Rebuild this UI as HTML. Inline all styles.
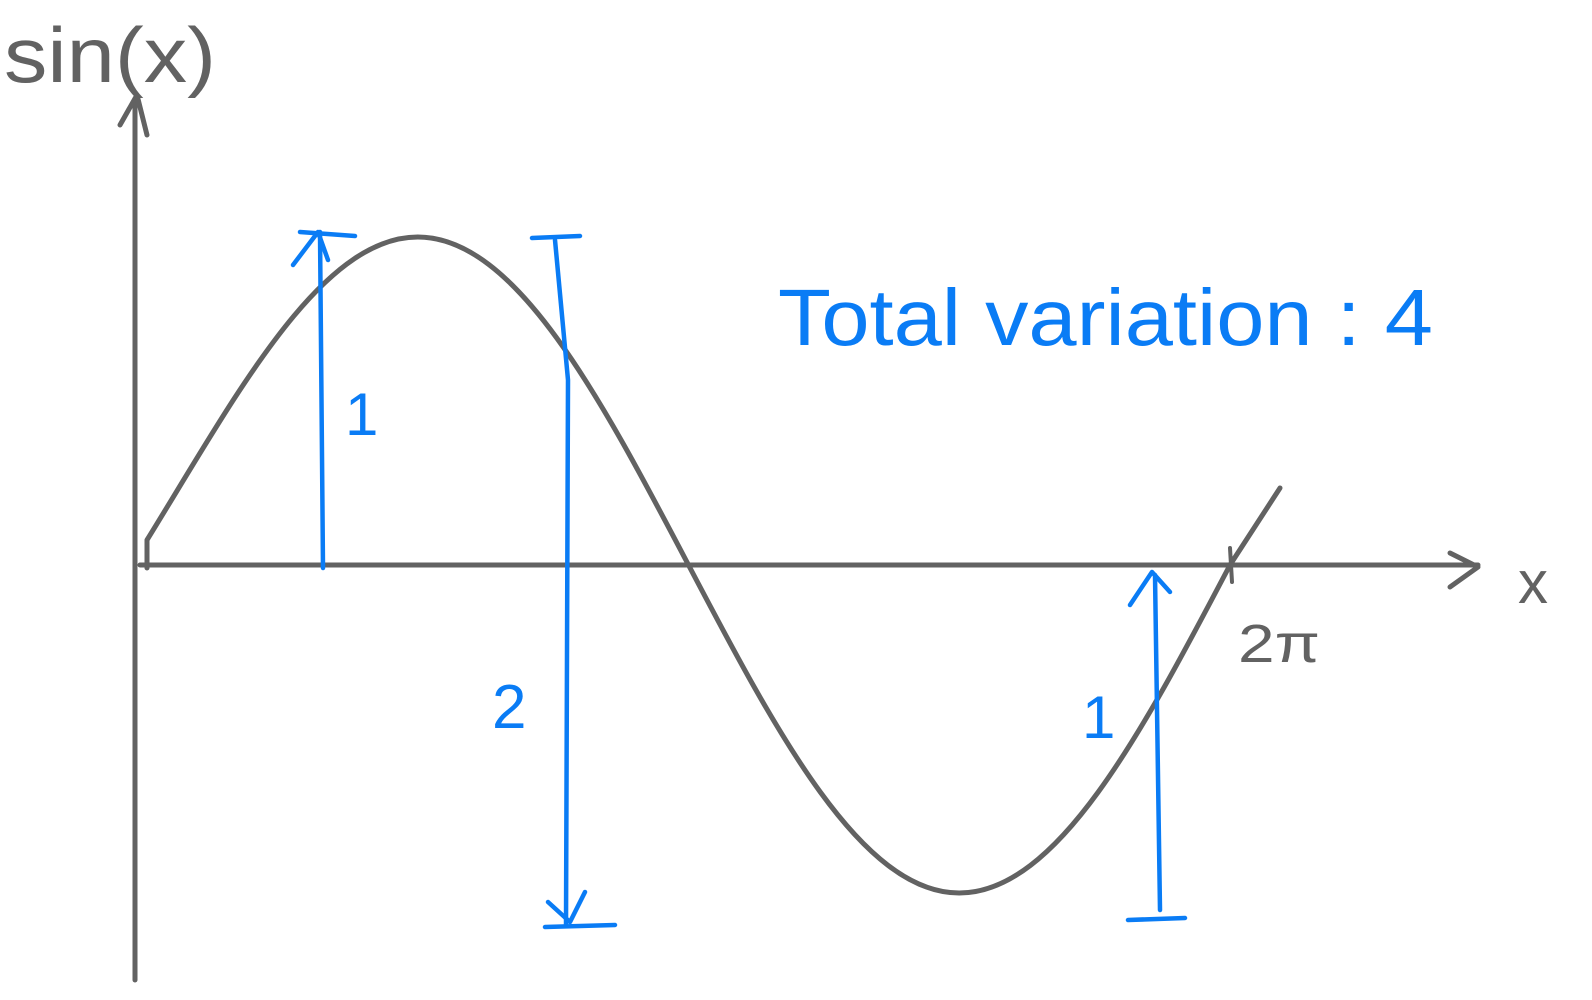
<!DOCTYPE html>
<html><head><meta charset="utf-8"><style>
html,body{margin:0;padding:0;background:#fff;width:1592px;height:1000px;overflow:hidden}
svg{display:block}
</style></head><body>
<svg width="1592" height="1000" viewBox="0 0 1592 1000" xmlns="http://www.w3.org/2000/svg">
<g fill="none" stroke="#626262" stroke-linecap="round" stroke-linejoin="round">
  <path d="M135,980 L135,100" stroke-width="5"/>
  <path d="M120,125 L137,95 L147,135" stroke-width="5"/>
  <path d="M140,565 L1478,565" stroke-width="5"/>
  <path d="M1450,553 L1478,567 L1450,587" stroke-width="5"/>
  <path d="M147,568 L147,540 M147,540 C235.3,397 319.8,237 417.75,237 C515.7,237 600.2,397 688.5,565 C776.8,733 861.3,893 959.25,893 C1057.2,893 1141.7,733 1230,565 L1280,488" stroke-width="5"/>
  <path d="M1230,548 L1232,582" stroke-width="4"/>
</g>
<g fill="none" stroke="#0a7cf5" stroke-linecap="round" stroke-linejoin="round" stroke-width="4.5">
  <path d="M323,568 L320,232"/>
  <path d="M293,265 L318,232 L328,260"/>
  <path d="M300,232 L355,236"/>
  <path d="M532,238 L580,236"/>
  <path d="M555,240 L568,380 L566,925"/>
  <path d="M548,902 L570,922 L585,892"/>
  <path d="M545,927 L615,925"/>
  <path d="M1160,910 L1155,575"/>
  <path d="M1130,605 L1152,572 L1170,592"/>
  <path d="M1128,920 L1185,918"/>
</g>
<g font-family="Liberation Sans, sans-serif" fill="#0a7cf5">
  <text x="345" y="435" font-size="60">1</text>
  <text x="492" y="728" font-size="62">2</text>
  <text x="1082" y="738" font-size="60">1</text>
  <text x="778" y="345" font-size="80" textLength="655" lengthAdjust="spacingAndGlyphs">Total variation : 4</text>
</g>
<g font-family="Liberation Sans, sans-serif" fill="#626262">
  <text x="4" y="82" font-size="78" textLength="212" lengthAdjust="spacingAndGlyphs">sin(x)</text>
  <text x="1518" y="603" font-size="60">x</text>
  <text x="1238" y="662" font-size="54" textLength="82" lengthAdjust="spacingAndGlyphs">2π</text>
</g>
</svg>
</body></html>
